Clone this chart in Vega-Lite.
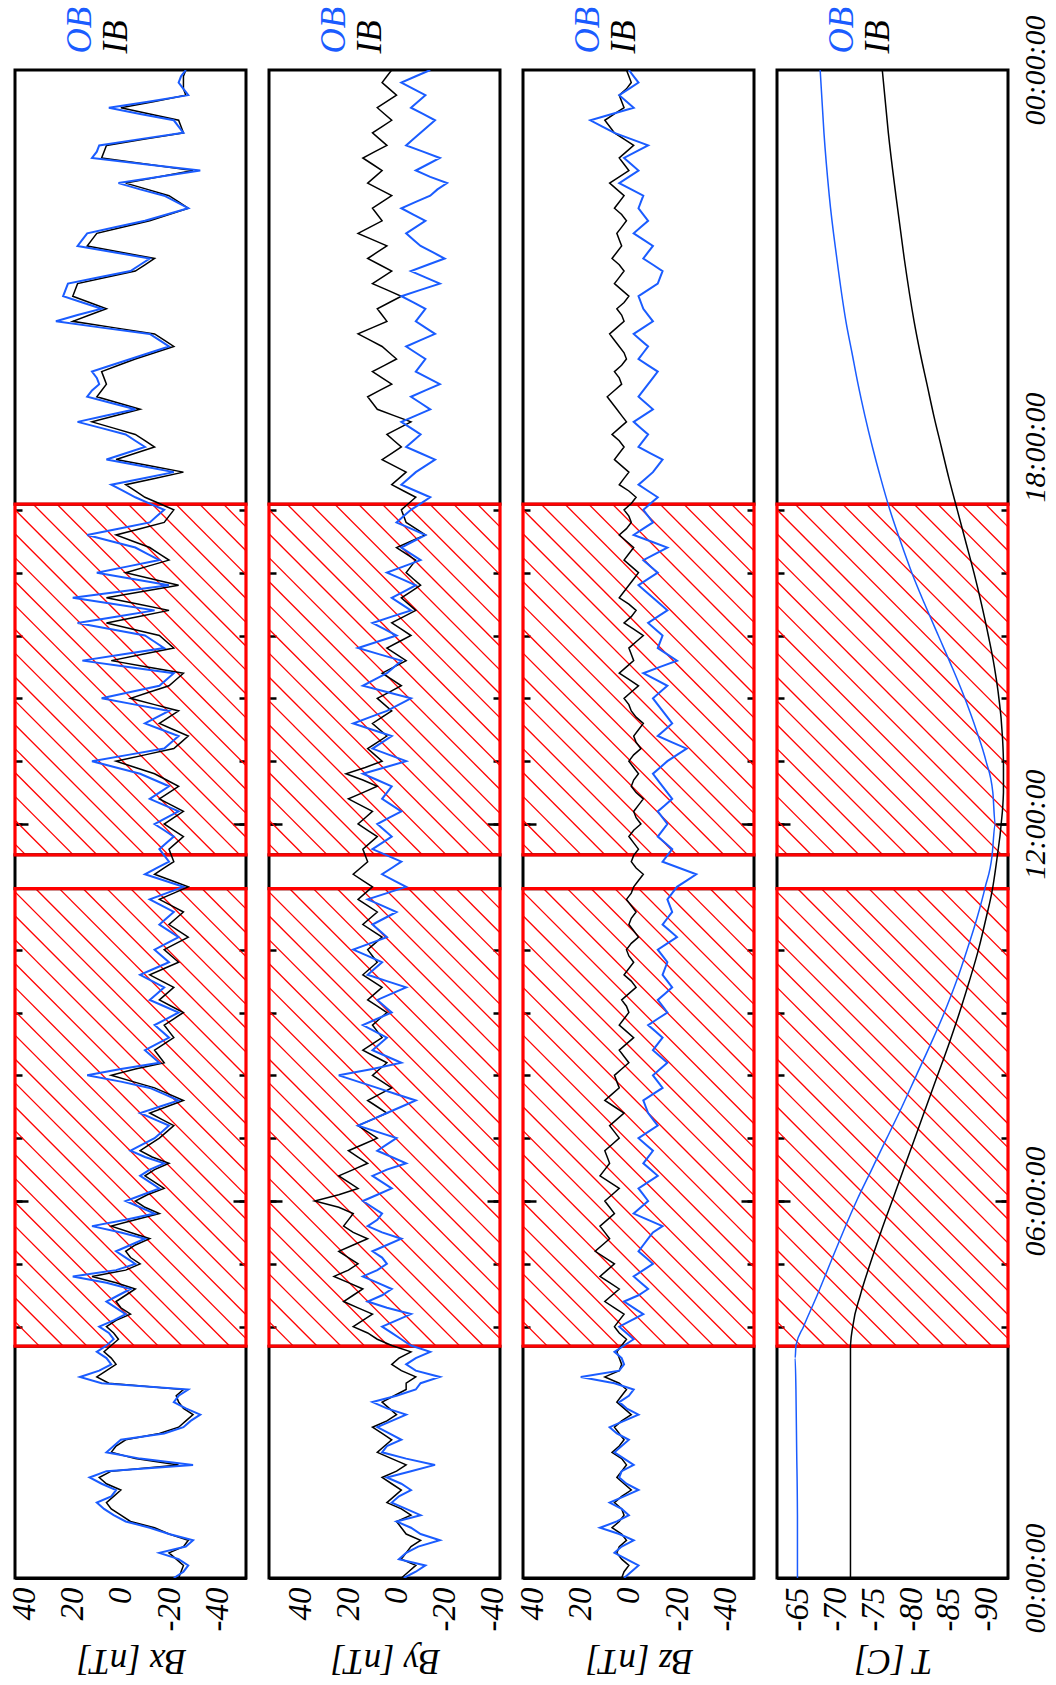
{
"$schema": "https://vega.github.io/schema/vega-lite/v6.json",
"background": "white",
"padding": {"left": 8, "top": 6, "right": 2, "bottom": 2},
"spacing": 23,
"bounds": "flush",
"datasets": {
"hatch": [
{"a":3.70,"b":0.01},{"a":4.08,"b":0.39},{"a":4.46,"b":0.77},{"a":4.84,"b":1.15},{"a":5.22,"b":1.53},{"a":5.60,"b":1.91},{"a":5.98,"b":2.29},{"a":6.36,"b":2.67},{"a":6.74,"b":3.05},{"a":7.12,"b":3.43},{"a":7.50,"b":3.81},{"a":7.88,"b":4.19},{"a":8.26,"b":4.57},{"a":8.64,"b":4.95},{"a":9.02,"b":5.33},{"a":9.40,"b":5.71},{"a":9.78,"b":6.09},{"a":10.16,"b":6.47},{"a":10.54,"b":6.85},{"a":10.92,"b":7.23},{"a":11.30,"b":7.61},{"a":11.68,"b":7.99},{"a":12.06,"b":8.37},{"a":12.44,"b":8.75},{"a":12.82,"b":9.13},{"a":13.20,"b":9.51},{"a":13.58,"b":9.89},{"a":13.96,"b":10.27},{"a":14.34,"b":10.65},{"a":14.72,"b":11.03},{"a":15.10,"b":11.41},{"a":15.48,"b":11.79},{"a":15.86,"b":12.17},{"a":16.24,"b":12.55},{"a":16.62,"b":12.93},{"a":17.00,"b":13.31},{"a":17.38,"b":13.69},{"a":17.76,"b":14.07},{"a":18.14,"b":14.45},{"a":18.52,"b":14.83},{"a":18.90,"b":15.21},{"a":19.28,"b":15.59},{"a":19.66,"b":15.97},{"a":20.04,"b":16.35},{"a":20.42,"b":16.73},{"a":20.80,"b":17.11}
],
"gaps": [{"s":0,"e":3.69},{"s":10.97,"e":11.51},{"s":17.09,"e":24}],
"boxes": [{"s":3.69,"e":10.97},{"s":11.51,"e":17.09}],
"temp": [
{"t":0,"ob":-65.0,"ib":-72.0},{"t":1,"ob":-65.0,"ib":-72.0},{"t":2,"ob":-64.9,"ib":-72.0},{"t":3,"ob":-64.8,"ib":-72.0},{"t":3.5,"ob":-64.7,"ib":-72.0},{"t":3.7,"ob":-64.8,"ib":-72.0},{"t":4.0,"ob":-65.8,"ib":-72.3},{"t":4.5,"ob":-67.6,"ib":-73.3},{"t":5.0,"ob":-69.3,"ib":-74.6},{"t":5.5,"ob":-71.0,"ib":-76.0},{"t":6.0,"ob":-72.8,"ib":-77.5},{"t":6.5,"ob":-74.8,"ib":-79.0},{"t":7.0,"ob":-76.8,"ib":-80.5},{"t":7.5,"ob":-78.8,"ib":-82.0},{"t":8.0,"ob":-80.7,"ib":-83.5},{"t":8.5,"ob":-82.6,"ib":-85.0},{"t":9.0,"ob":-84.4,"ib":-86.4},{"t":9.5,"ob":-86.0,"ib":-87.7},{"t":10.0,"ob":-87.4,"ib":-88.9},{"t":10.5,"ob":-88.7,"ib":-89.9},{"t":11.0,"ob":-89.8,"ib":-90.8},{"t":11.5,"ob":-90.7,"ib":-91.4},{"t":12.0,"ob":-91.1,"ib":-91.9},{"t":12.5,"ob":-90.8,"ib":-92.2},{"t":13.0,"ob":-89.9,"ib":-92.2},{"t":13.5,"ob":-88.6,"ib":-92.0},{"t":14.0,"ob":-87.1,"ib":-91.6},{"t":14.5,"ob":-85.4,"ib":-91.0},{"t":15.0,"ob":-83.6,"ib":-90.2},{"t":15.5,"ob":-81.8,"ib":-89.3},{"t":16.0,"ob":-80.1,"ib":-88.3},{"t":16.5,"ob":-78.6,"ib":-87.2},{"t":17.0,"ob":-77.2,"ib":-86.1},{"t":17.5,"ob":-76.0,"ib":-85.0},{"t":18.0,"ob":-74.9,"ib":-84.0},{"t":18.5,"ob":-73.9,"ib":-83.0},{"t":19.0,"ob":-73.0,"ib":-82.1},{"t":19.5,"ob":-72.2,"ib":-81.2},{"t":20.0,"ob":-71.4,"ib":-80.4},{"t":21.0,"ob":-70.2,"ib":-79.1},{"t":22.0,"ob":-69.2,"ib":-78.0},{"t":23.0,"ob":-68.5,"ib":-77.0},{"t":24.0,"ob":-68.0,"ib":-76.2}
],
"b": [
{"t":0.0,"xo":-22,"xi":-24,"yo":-3,"yi":-2,"zo":2,"zi":3},
{"t":0.2,"xo":-28,"xi":-26,"yo":-12,"yi":-8,"zo":-4,"zi":0},
{"t":0.4,"xo":-16,"xi":-20,"yo":-4,"yi":-4,"zo":6,"zi":5},
{"t":0.6,"xo":-30,"xi":-28,"yo":-18,"yi":-10,"zo":-2,"zi":1},
{"t":0.8,"xo":-12,"xi":-14,"yo":-6,"yi":-2,"zo":12,"zi":7},
{"t":1.0,"xo":3,"xi":0,"yo":-10,"yi":-6,"zo":0,"zi":2},
{"t":1.2,"xo":10,"xi":6,"yo":2,"yi":4,"zo":8,"zi":6},
{"t":1.4,"xo":2,"xi":0,"yo":-6,"yi":-2,"zo":-4,"zi":-1},
{"t":1.6,"xo":13,"xi":9,"yo":4,"yi":6,"zo":4,"zi":5},
{"t":1.8,"xo":-30,"xi":-24,"yo":-16,"yi":-4,"zo":-2,"zi":1},
{"t":2.0,"xo":6,"xi":4,"yo":6,"yi":8,"zo":6,"zi":7},
{"t":2.2,"xo":0,"xi":-2,"yo":-2,"yi":2,"zo":0,"zi":2},
{"t":2.4,"xo":-26,"xi":-24,"yo":8,"yi":10,"zo":8,"zi":6},
{"t":2.6,"xo":-33,"xi":-30,"yo":-4,"yi":0,"zo":-4,"zi":-1},
{"t":2.8,"xo":-22,"xi":-24,"yo":10,"yi":6,"zo":4,"zi":5},
{"t":3.0,"xo":-28,"xi":-26,"yo":-8,"yi":-4,"zo":-2,"zi":1},
{"t":3.2,"xo":17,"xi":10,"yo":-18,"yi":-8,"zo":20,"zi":10},
{"t":3.4,"xo":4,"xi":2,"yo":-4,"yi":2,"zo":2,"zi":3},
{"t":3.6,"xo":10,"xi":7,"yo":-14,"yi":-6,"zo":6,"zi":5},
{"t":3.8,"xo":3,"xi":1,"yo":-2,"yi":8,"zo":-2,"zi":1},
{"t":4.0,"xo":9,"xi":6,"yo":6,"yi":18,"zo":4,"zi":6},
{"t":4.2,"xo":-2,"xi":-4,"yo":-6,"yi":10,"zo":-6,"zi":2},
{"t":4.4,"xo":6,"xi":2,"yo":12,"yi":22,"zo":2,"zi":10},
{"t":4.6,"xo":-4,"xi":-6,"yo":2,"yi":14,"zo":-8,"zi":4},
{"t":4.8,"xo":20,"xi":12,"yo":14,"yi":26,"zo":-2,"zi":12},
{"t":5.0,"xo":-6,"xi":-8,"yo":4,"yi":16,"zo":-10,"zi":6},
{"t":5.2,"xo":2,"xi":-2,"yo":10,"yi":24,"zo":-4,"zi":14},
{"t":5.4,"xo":-10,"xi":-12,"yo":-2,"yi":12,"zo":-8,"zi":8},
{"t":5.6,"xo":12,"xi":4,"yo":12,"yi":22,"zo":-14,"zi":12},
{"t":5.8,"xo":-14,"xi":-16,"yo":6,"yi":18,"zo":-2,"zi":6},
{"t":6.0,"xo":-2,"xi":-6,"yo":14,"yi":34,"zo":-8,"zi":10},
{"t":6.2,"xo":-16,"xi":-18,"yo":2,"yi":16,"zo":-4,"zi":4},
{"t":6.4,"xo":-8,"xi":-10,"yo":10,"yi":24,"zo":-12,"zi":12},
{"t":6.6,"xo":-18,"xi":-20,"yo":-4,"yi":12,"zo":-6,"zi":8},
{"t":6.8,"xo":-4,"xi":-8,"yo":8,"yi":20,"zo":-10,"zi":10},
{"t":7.0,"xo":-14,"xi":-16,"yo":0,"yi":8,"zo":-4,"zi":4},
{"t":7.2,"xo":-20,"xi":-22,"yo":16,"yi":16,"zo":-12,"zi":8},
{"t":7.4,"xo":-8,"xi":-12,"yo":4,"yi":4,"zo":-8,"zi":2},
{"t":7.6,"xo":-24,"xi":-26,"yo":-8,"yi":12,"zo":-6,"zi":10},
{"t":7.8,"xo":-12,"xi":-14,"yo":8,"yi":2,"zo":-14,"zi":4},
{"t":8.0,"xo":14,"xi":4,"yo":24,"yi":10,"zo":-10,"zi":6},
{"t":8.2,"xo":-16,"xi":-18,"yo":-2,"yi":4,"zo":-16,"zi":0},
{"t":8.4,"xo":-10,"xi":-14,"yo":10,"yi":14,"zo":-10,"zi":4},
{"t":8.6,"xo":-20,"xi":-22,"yo":4,"yi":6,"zo":-14,"zi":-2},
{"t":8.8,"xo":-14,"xi":-18,"yo":14,"yi":10,"zo":-8,"zi":4},
{"t":9.0,"xo":-24,"xi":-26,"yo":2,"yi":4,"zo":-16,"zi":0},
{"t":9.2,"xo":-12,"xi":-16,"yo":8,"yi":12,"zo":-12,"zi":3},
{"t":9.4,"xo":-18,"xi":-22,"yo":-4,"yi":6,"zo":-18,"zi":-3},
{"t":9.6,"xo":-8,"xi":-12,"yo":12,"yi":14,"zo":-14,"zi":2},
{"t":9.8,"xo":-20,"xi":-24,"yo":6,"yi":8,"zo":-16,"zi":-2},
{"t":10.0,"xo":-14,"xi":-18,"yo":18,"yi":12,"zo":-12,"zi":1},
{"t":10.2,"xo":-24,"xi":-28,"yo":4,"yi":6,"zo":-20,"zi":-4},
{"t":10.4,"xo":-16,"xi":-20,"yo":10,"yi":14,"zo":-14,"zi":0},
{"t":10.6,"xo":-22,"xi":-26,"yo":0,"yi":8,"zo":-18,"zi":-3},
{"t":10.8,"xo":-12,"xi":-16,"yo":12,"yi":16,"zo":-16,"zi":1},
{"t":11.0,"xo":-26,"xi":-28,"yo":-4,"yi":10,"zo":-20,"zi":-2},
{"t":11.2,"xo":-10,"xi":-14,"yo":6,"yi":18,"zo":-28,"zi":-6},
{"t":11.4,"xo":-20,"xi":-22,"yo":-2,"yi":12,"zo":-14,"zi":-1},
{"t":11.6,"xo":-16,"xi":-20,"yo":10,"yi":14,"zo":-18,"zi":-4},
{"t":11.8,"xo":-22,"xi":-26,"yo":2,"yi":8,"zo":-12,"zi":0},
{"t":12.0,"xo":-14,"xi":-18,"yo":8,"yi":16,"zo":-16,"zi":-5},
{"t":12.2,"xo":-24,"xi":-26,"yo":-2,"yi":10,"zo":-12,"zi":-2},
{"t":12.4,"xo":-12,"xi":-16,"yo":6,"yi":20,"zo":-18,"zi":-6},
{"t":12.6,"xo":-20,"xi":-24,"yo":2,"yi":8,"zo":-14,"zi":-1},
{"t":12.8,"xo":-8,"xi":-14,"yo":14,"yi":21,"zo":-10,"zi":-4},
{"t":13.0,"xo":12,"xi":2,"yo":-4,"yi":6,"zo":-16,"zi":0},
{"t":13.2,"xo":-18,"xi":-22,"yo":10,"yi":12,"zo":-24,"zi":-5},
{"t":13.4,"xo":-24,"xi":-28,"yo":2,"yi":4,"zo":-12,"zi":-2},
{"t":13.6,"xo":-10,"xi":-16,"yo":18,"yi":10,"zo":-18,"zi":-6},
{"t":13.8,"xo":-20,"xi":-24,"yo":4,"yi":2,"zo":-14,"zi":-1},
{"t":14.0,"xo":8,"xi":-4,"yo":-6,"yi":8,"zo":-10,"zi":2},
{"t":14.2,"xo":-16,"xi":-20,"yo":14,"yi":-2,"zo":-16,"zi":-4},
{"t":14.4,"xo":-22,"xi":-26,"yo":4,"yi":6,"zo":-6,"zi":4},
{"t":14.6,"xo":16,"xi":4,"yo":-2,"yi":-4,"zo":-20,"zi":-2},
{"t":14.8,"xo":-18,"xi":-22,"yo":16,"yi":4,"zo":-12,"zi":0},
{"t":15.0,"xo":-10,"xi":-16,"yo":0,"yi":-6,"zo":-14,"zi":-6},
{"t":15.2,"xo":18,"xi":6,"yo":10,"yi":2,"zo":-8,"zi":2},
{"t":15.4,"xo":-14,"xi":-20,"yo":-6,"yi":-8,"zo":-16,"zi":-3},
{"t":15.6,"xo":20,"xi":6,"yo":2,"yi":-2,"zo":-10,"zi":4},
{"t":15.8,"xo":-20,"xi":-24,"yo":-8,"yi":-10,"zo":-4,"zi":0},
{"t":16.0,"xo":10,"xi":-2,"yo":4,"yi":-4,"zo":-12,"zi":-4},
{"t":16.2,"xo":-16,"xi":-20,"yo":-10,"yi":-8,"zo":-6,"zi":2},
{"t":16.4,"xo":-6,"xi":-12,"yo":-2,"yi":0,"zo":-16,"zi":-2},
{"t":16.6,"xo":14,"xi":2,"yo":-12,"yi":-12,"zo":-2,"zi":4},
{"t":16.8,"xo":-12,"xi":-18,"yo":0,"yi":-4,"zo":-10,"zi":-1},
{"t":17.0,"xo":-18,"xi":-22,"yo":-6,"yi":-2,"zo":-6,"zi":2},
{"t":17.2,"xo":-6,"xi":-10,"yo":-14,"yi":-8,"zo":-12,"zi":-3},
{"t":17.4,"xo":4,"xi":-2,"yo":-2,"yi":2,"zo":-4,"zi":4},
{"t":17.6,"xo":-22,"xi":-26,"yo":-8,"yi":-4,"zo":-10,"zi":0},
{"t":17.8,"xo":6,"xi":2,"yo":-16,"yi":6,"zo":-14,"zi":6},
{"t":18.0,"xo":-10,"xi":-14,"yo":-4,"yi":-2,"zo":-4,"zi":2},
{"t":18.2,"xo":-2,"xi":-6,"yo":-10,"yi":4,"zo":-8,"zi":7},
{"t":18.4,"xo":18,"xi":12,"yo":-2,"yi":-6,"zo":-2,"zi":1},
{"t":18.6,"xo":-6,"xi":-8,"yo":-14,"yi":8,"zo":-10,"zi":5},
{"t":18.8,"xo":14,"xi":10,"yo":-6,"yi":12,"zo":-4,"zi":9},
{"t":19.0,"xo":9,"xi":6,"yo":-18,"yi":2,"zo":-8,"zi":3},
{"t":19.2,"xo":12,"xi":8,"yo":-8,"yi":10,"zo":-12,"zi":6},
{"t":19.4,"xo":-4,"xi":-6,"yo":-12,"yi":0,"zo":-4,"zi":1},
{"t":19.6,"xo":-20,"xi":-22,"yo":-4,"yi":6,"zo":-8,"zi":4},
{"t":19.8,"xo":-12,"xi":-14,"yo":-16,"yi":16,"zo":-2,"zi":8},
{"t":20.0,"xo":27,"xi":20,"yo":-8,"yi":4,"zo":-10,"zi":2},
{"t":20.2,"xo":8,"xi":6,"yo":-12,"yi":8,"zo":-6,"zi":5},
{"t":20.4,"xo":24,"xi":20,"yo":-2,"yi":-2,"zo":-4,"zi":0},
{"t":20.6,"xo":22,"xi":18,"yo":-18,"yi":10,"zo":-12,"zi":6},
{"t":20.8,"xo":-4,"xi":-6,"yo":-6,"yi":2,"zo":-14,"zi":2},
{"t":21.0,"xo":-12,"xi":-14,"yo":-20,"yi":12,"zo":-6,"zi":7},
{"t":21.2,"xo":18,"xi":14,"yo":-10,"yi":4,"zo":-10,"zi":3},
{"t":21.4,"xo":14,"xi":10,"yo":-4,"yi":16,"zo":-2,"zi":5},
{"t":21.6,"xo":-10,"xi":-12,"yo":-12,"yi":6,"zo":-8,"zi":1},
{"t":21.8,"xo":-28,"xi":-28,"yo":-2,"yi":10,"zo":-4,"zi":6},
{"t":22.0,"xo":-18,"xi":-20,"yo":-14,"yi":2,"zo":-6,"zi":2},
{"t":22.2,"xo":1,"xi":-2,"yo":-21,"yi":12,"zo":4,"zi":8},
{"t":22.4,"xo":-33,"xi":-30,"yo":-8,"yi":6,"zo":-4,"zi":0},
{"t":22.6,"xo":12,"xi":8,"yo":-18,"yi":14,"zo":2,"zi":4},
{"t":22.8,"xo":9,"xi":6,"yo":-4,"yi":4,"zo":-8,"zi":-2},
{"t":23.0,"xo":-26,"xi":-26,"yo":-10,"yi":10,"zo":6,"zi":6},
{"t":23.2,"xo":-22,"xi":-24,"yo":-16,"yi":2,"zo":16,"zi":10},
{"t":23.4,"xo":5,"xi":0,"yo":-6,"yi":8,"zo":-2,"zi":2},
{"t":23.6,"xo":-28,"xi":-27,"yo":-12,"yi":0,"zo":4,"zi":4},
{"t":23.8,"xo":-24,"xi":-26,"yo":-2,"yi":6,"zo":-4,"zi":-1},
{"t":24.0,"xo":-27,"xi":-27,"yo":-14,"yi":2,"zo":0,"zi":1},
{"t":0.1,"xo":-26,"xi":-25,"yo":-8,"yi":-5,"zo":-1,"zi":2},
{"t":0.3,"xo":-24,"xi":-23,"yo":-1,"yi":-2,"zo":1,"zi":3},
{"t":0.5,"xo":-27,"xi":-26,"yo":-9,"yi":-6,"zo":3,"zi":4},
{"t":0.7,"xo":-20,"xi":-20,"yo":-10,"yi":-4,"zo":4,"zi":3},
{"t":0.9,"xo":-2,"xi":-4,"yo":0,"yi":0,"zo":5,"zi":4},
{"t":1.1,"xo":7,"xi":4,"yo":-4,"yi":-2,"zo":3,"zi":3},
{"t":1.3,"xo":4,"xi":3,"yo":-1,"yi":1,"zo":2,"zi":3},
{"t":1.5,"xo":8,"xi":6,"yo":-2,"yi":2,"zo":1,"zi":2},
{"t":1.7,"xo":6,"xi":4,"yo":-6,"yi":0,"zo":3,"zi":3},
{"t":1.9,"xo":-8,"xi":-6,"yo":-4,"yi":2,"zo":2,"zi":3},
{"t":2.1,"xo":3,"xi":2,"yo":4,"yi":5,"zo":3,"zi":4},
{"t":2.3,"xo":-18,"xi":-16,"yo":3,"yi":6,"zo":5,"zi":4},
{"t":2.5,"xo":-29,"xi":-27,"yo":2,"yi":4,"zo":2,"zi":3},
{"t":2.7,"xo":-27,"xi":-26,"yo":4,"yi":3,"zo":1,"zi":2},
{"t":2.9,"xo":-24,"xi":-23,"yo":0,"yi":1,"zo":0,"zi":3},
{"t":3.1,"xo":8,"xi":5,"yo":-10,"yi":-4,"zo":6,"zi":4},
{"t":3.3,"xo":9,"xi":6,"yo":-8,"yi":-2,"zo":4,"zi":4},
{"t":3.5,"xo":6,"xi":4,"yo":-8,"yi":-1,"zo":3,"zi":4},
{"t":3.7,"xo":6,"xi":4,"yo":-6,"yi":2,"zo":2,"zi":3},
{"t":3.9,"xo":5,"xi":3,"yo":2,"yi":12,"zo":1,"zi":4},
{"t":4.1,"xo":3,"xi":2,"yo":0,"yi":14,"zo":-1,"zi":4},
{"t":4.3,"xo":2,"xi":0,"yo":4,"yi":16,"zo":-2,"zi":6},
{"t":4.5,"xo":1,"xi":-2,"yo":6,"yi":18,"zo":-4,"zi":7},
{"t":4.7,"xo":6,"xi":2,"yo":8,"yi":20,"zo":-5,"zi":8},
{"t":4.9,"xo":2,"xi":-2,"yo":8,"yi":20,"zo":-6,"zi":9},
{"t":5.1,"xo":-2,"xi":-4,"yo":6,"yi":20,"zo":-7,"zi":10},
{"t":5.3,"xo":-4,"xi":-6,"yo":4,"yi":18,"zo":-6,"zi":11},
{"t":5.5,"xo":0,"xi":-4,"yo":6,"yi":18,"zo":-10,"zi":10},
{"t":5.7,"xo":-2,"xi":-6,"yo":8,"yi":20,"zo":-8,"zi":9},
{"t":5.9,"xo":-8,"xi":-10,"yo":10,"yi":24,"zo":-5,"zi":8},
{"t":6.1,"xo":-9,"xi":-11,"yo":8,"yi":24,"zo":-6,"zi":7},
{"t":6.3,"xo":-12,"xi":-14,"yo":6,"yi":20,"zo":-8,"zi":8},
{"t":6.5,"xo":-12,"xi":-14,"yo":4,"yi":18,"zo":-9,"zi":10},
{"t":6.7,"xo":-10,"xi":-13,"yo":2,"yi":16,"zo":-8,"zi":9},
{"t":6.9,"xo":-9,"xi":-12,"yo":4,"yi":14,"zo":-7,"zi":7},
{"t":7.1,"xo":-17,"xi":-19,"yo":8,"yi":12,"zo":-8,"zi":6},
{"t":7.3,"xo":-14,"xi":-17,"yo":10,"yi":10,"zo":-10,"zi":5},
{"t":7.5,"xo":-16,"xi":-19,"yo":-2,"yi":8,"zo":-7,"zi":6},
{"t":7.7,"xo":-18,"xi":-20,"yo":0,"yi":7,"zo":-10,"zi":7},
{"t":7.9,"xo":0,"xi":-5,"yo":16,"yi":6,"zo":-12,"zi":5},
{"t":8.1,"xo":0,"xi":-6,"yo":10,"yi":7,"zo":-13,"zi":3},
{"t":8.3,"xo":-13,"xi":-16,"yo":4,"yi":9,"zo":-13,"zi":2},
{"t":8.5,"xo":-15,"xi":-18,"yo":7,"yi":10,"zo":-12,"zi":1},
{"t":8.7,"xo":-17,"xi":-20,"yo":9,"yi":8,"zo":-11,"zi":1},
{"t":8.9,"xo":-19,"xi":-22,"yo":8,"yi":7,"zo":-12,"zi":2},
{"t":9.1,"xo":-18,"xi":-21,"yo":5,"yi":8,"zo":-14,"zi":1},
{"t":9.3,"xo":-15,"xi":-19,"yo":2,"yi":9,"zo":-15,"zi":0},
{"t":9.5,"xo":-13,"xi":-17,"yo":4,"yi":10,"zo":-16,"zi":-1},
{"t":9.7,"xo":-14,"xi":-18,"yo":9,"yi":11,"zo":-15,"zi":0},
{"t":9.9,"xo":-17,"xi":-21,"yo":12,"yi":10,"zo":-14,"zi":0},
{"t":10.1,"xo":-19,"xi":-23,"yo":11,"yi":9,"zo":-16,"zi":-1},
{"t":10.3,"xo":-20,"xi":-24,"yo":7,"yi":10,"zo":-17,"zi":-2},
{"t":10.5,"xo":-19,"xi":-23,"yo":5,"yi":11,"zo":-16,"zi":-1},
{"t":10.7,"xo":-17,"xi":-21,"yo":6,"yi":12,"zo":-17,"zi":-1},
{"t":10.9,"xo":-19,"xi":-22,"yo":4,"yi":13,"zo":-18,"zi":-1},
{"t":11.1,"xo":-18,"xi":-21,"yo":1,"yi":14,"zo":-24,"zi":-4},
{"t":11.3,"xo":-15,"xi":-18,"yo":2,"yi":15,"zo":-21,"zi":-3},
{"t":11.5,"xo":-18,"xi":-21,"yo":4,"yi":13,"zo":-16,"zi":-2},
{"t":11.7,"xo":-19,"xi":-23,"yo":6,"yi":11,"zo":-15,"zi":-2},
{"t":11.9,"xo":-18,"xi":-22,"yo":5,"yi":12,"zo":-14,"zi":-2},
{"t":12.1,"xo":-19,"xi":-22,"yo":3,"yi":13,"zo":-14,"zi":-3},
{"t":12.3,"xo":-18,"xi":-21,"yo":2,"yi":15,"zo":-15,"zi":-4},
{"t":12.5,"xo":-16,"xi":-20,"yo":4,"yi":14,"zo":-16,"zi":-3},
{"t":12.7,"xo":-14,"xi":-19,"yo":8,"yi":14,"zo":-12,"zi":-2},
{"t":12.9,"xo":2,"xi":-6,"yo":5,"yi":13,"zo":-13,"zi":-2},
{"t":13.1,"xo":-3,"xi":-10,"yo":3,"yi":9,"zo":-20,"zi":-2},
{"t":13.3,"xo":-21,"xi":-25,"yo":6,"yi":8,"zo":-18,"zi":-3},
{"t":13.5,"xo":-17,"xi":-22,"yo":10,"yi":7,"zo":-15,"zi":-4},
{"t":13.7,"xo":-15,"xi":-20,"yo":11,"yi":6,"zo":-16,"zi":-3},
{"t":13.9,"xo":-6,"xi":-14,"yo":-1,"yi":5,"zo":-12,"zi":0},
{"t":14.1,"xo":-4,"xi":-12,"yo":4,"yi":3,"zo":-13,"zi":-1},
{"t":14.3,"xo":-19,"xi":-23,"yo":9,"yi":2,"zo":-11,"zi":0},
{"t":14.5,"xo":-3,"xi":-11,"yo":1,"yi":1,"zo":-13,"zi":1},
{"t":14.7,"xo":-1,"xi":-9,"yo":7,"yi":0,"zo":-16,"zi":-1},
{"t":14.9,"xo":-14,"xi":-19,"yo":8,"yi":-1,"zo":-13,"zi":-3},
{"t":15.1,"xo":4,"xi":-5,"yo":5,"yi":-2,"zo":-11,"zi":-2},
{"t":15.3,"xo":2,"xi":-7,"yo":2,"yi":-3,"zo":-12,"zi":-1},
{"t":15.5,"xo":3,"xi":-7,"yo":-2,"yi":-5,"zo":-13,"zi":0},
{"t":15.7,"xo":0,"xi":-9,"yo":-3,"yi":-6,"zo":-7,"zi":2},
{"t":15.9,"xo":-5,"xi":-13,"yo":-2,"yi":-7,"zo":-8,"zi":-2},
{"t":16.1,"xo":-3,"xi":-11,"yo":-3,"yi":-6,"zo":-9,"zi":-1},
{"t":16.3,"xo":-11,"xi":-16,"yo":-6,"yi":-4,"zo":-11,"zi":0},
{"t":16.5,"xo":4,"xi":-5,"yo":-7,"yi":-6,"zo":-9,"zi":1},
{"t":16.7,"xo":1,"xi":-8,"yo":-6,"yi":-8,"zo":-6,"zi":1},
{"t":16.9,"xo":-15,"xi":-20,"yo":-3,"yi":-3,"zo":-8,"zi":0},
{"t":17.1,"xo":-12,"xi":-16,"yo":-10,"yi":-5,"zo":-9,"zi":-1},
{"t":17.3,"xo":-1,"xi":-6,"yo":-8,"yi":-3,"zo":-8,"zi":0},
{"t":17.5,"xo":-9,"xi":-14,"yo":-5,"yi":-1,"zo":-7,"zi":2},
{"t":17.7,"xo":-8,"xi":-12,"yo":-12,"yi":1,"zo":-12,"zi":3},
{"t":17.9,"xo":-2,"xi":-6,"yo":-10,"yi":2,"zo":-9,"zi":4},
{"t":18.1,"xo":-6,"xi":-10,"yo":-7,"yi":1,"zo":-6,"zi":4},
{"t":18.3,"xo":8,"xi":3,"yo":-6,"yi":-1,"zo":-5,"zi":4},
{"t":18.5,"xo":6,"xi":2,"yo":-8,"yi":1,"zo":-6,"zi":3},
{"t":18.7,"xo":4,"xi":1,"yo":-10,"yi":10,"zo":-7,"zi":7},
{"t":18.9,"xo":12,"xi":8,"yo":-12,"yi":7,"zo":-6,"zi":6},
{"t":19.1,"xo":10,"xi":7,"yo":-13,"yi":6,"zo":-10,"zi":4},
{"t":19.3,"xo":4,"xi":1,"yo":-10,"yi":5,"zo":-8,"zi":3},
{"t":19.5,"xo":-12,"xi":-14,"yo":-8,"yi":3,"zo":-6,"zi":2},
{"t":19.7,"xo":-16,"xi":-18,"yo":-10,"yi":11,"zo":-5,"zi":6},
{"t":19.9,"xo":8,"xi":3,"yo":-12,"yi":10,"zo":-6,"zi":5},
{"t":20.1,"xo":18,"xi":13,"yo":-10,"yi":6,"zo":-8,"zi":3},
{"t":20.3,"xo":16,"xi":13,"yo":-7,"yi":3,"zo":-5,"zi":2},
{"t":20.5,"xo":23,"xi":19,"yo":-10,"yi":4,"zo":-8,"zi":3},
{"t":20.7,"xo":9,"xi":6,"yo":-12,"yi":6,"zo":-13,"zi":4},
{"t":20.9,"xo":-8,"xi":-10,"yo":-13,"yi":7,"zo":-10,"zi":4},
{"t":21.1,"xo":3,"xi":0,"yo":-15,"yi":8,"zo":-8,"zi":5},
{"t":21.3,"xo":16,"xi":12,"yo":-7,"yi":10,"zo":-6,"zi":4},
{"t":21.5,"xo":2,"xi":-1,"yo":-8,"yi":11,"zo":-5,"zi":3},
{"t":21.7,"xo":-19,"xi":-20,"yo":-7,"yi":8,"zo":-6,"zi":3},
{"t":21.9,"xo":-23,"xi":-24,"yo":-8,"yi":6,"zo":-5,"zi":4},
{"t":22.1,"xo":-8,"xi":-11,"yo":-17,"yi":7,"zo":-1,"zi":5},
{"t":22.3,"xo":-16,"xi":-16,"yo":-14,"yi":9,"zo":0,"zi":4},
{"t":22.5,"xo":-10,"xi":-11,"yo":-13,"yi":10,"zo":-1,"zi":2},
{"t":22.7,"xo":10,"xi":7,"yo":-11,"yi":9,"zo":-3,"zi":1},
{"t":22.9,"xo":-8,"xi":-10,"yo":-7,"yi":7,"zo":-1,"zi":2},
{"t":23.1,"xo":-24,"xi":-25,"yo":-13,"yi":6,"zo":11,"zi":8},
{"t":23.3,"xo":-8,"xi":-12,"yo":-11,"yi":5,"zo":7,"zi":6},
{"t":23.5,"xo":-12,"xi":-14,"yo":-9,"yi":4,"zo":1,"zi":3},
{"t":23.7,"xo":-26,"xi":-26,"yo":-7,"yi":3,"zo":0,"zi":1},
{"t":23.9,"xo":-25,"xi":-26,"yo":-8,"yi":4,"zo":-2,"zi":0}
]
},
"hconcat": [
{
"width": 231, "height": 1508,
"resolve": {"axis": {"x": "independent", "y": "independent"}},
"layer": [
{"data": {"name": "hatch"}, "mark": {"type": "rule", "color": "#ff0000", "strokeWidth": 1.3, "clip": true},
 "encoding": {
  "x": {"datum": 44, "type": "quantitative", "scale": {"domain": [-52, 44], "reverse": true, "nice": false, "zero": false},
   "axis": {"orient": "bottom", "values": [-40, -20, 0, 20, 40], "labelExpr": "'' + datum.value", "tickSize": -13, "labelAngle": 270, "labelAlign": "right", "labelBaseline": "middle", "labelPadding": 22, "title": "Bx [nT]", "titleAngle": 180, "titleX": 116, "titleY": 82, "titleAlign": "center", "titleBaseline": "middle", "domain": true}},
  "x2": {"datum": -52},
  "y": {"field": "a", "type": "quantitative", "scale": {"domain": [0, 24], "nice": false, "zero": false},
   "axis": {"orient": "left", "values": [0, 6, 12, 18, 24], "tickSize": -13, "labels": false, "title": null, "domain": false}},
  "y2": {"field": "b"}
 }},
{"data": {"name": "gaps"}, "mark": {"type": "rect", "fill": "white", "stroke": "#000000", "strokeWidth": 3},
 "encoding": {
  "x": {"datum": 44, "type": "quantitative", "axis": {"orient": "top", "values": [-40, -20, 0, 20, 40], "tickSize": -13, "labels": false, "title": "OB", "titleColor": "#1a5cff", "titleAngle": 270, "titleX": 64, "titleY": -17, "titleAlign": "left", "titleBaseline": "middle", "domain": true}},
  "x2": {"datum": -52},
  "y": {"field": "s", "type": "quantitative", "axis": {"orient": "right", "values": [0, 6, 12, 18, 24], "tickSize": -13, "labels": false, "title": null, "domain": false}},
  "y2": {"field": "e"}
 }},
{"data": {"name": "boxes"}, "mark": {"type": "rect", "fillOpacity": 0, "stroke": "#ff0000", "strokeWidth": 3.2},
 "encoding": {
  "x": {"datum": 44, "type": "quantitative", "axis": {"orient": "bottom", "values": [-50, -45, -40, -35, -30, -25, -20, -15, -10, -5, 0, 5, 10, 15, 20, 25, 30, 35, 40], "tickSize": -7, "labels": false, "title": null, "domain": false}},
  "x2": {"datum": -52},
  "y": {"field": "s", "type": "quantitative", "axis": {"orient": "left", "values": [0,1,2,3,4,5,6,7,8,9,10,11,12,13,14,15,16,17,18,19,20,21,22,23,24], "tickSize": -7, "labels": false, "title": null, "domain": false}},
  "y2": {"field": "e"}
 }},
{"data": {"name": "b"}, "mark": {"type": "line", "color": "#000000", "strokeWidth": 1.5, "clip": true},
 "encoding": {
  "x": {"field": "xi", "type": "quantitative", "axis": {"orient": "top", "values": [-50, -45, -40, -35, -30, -25, -20, -15, -10, -5, 0, 5, 10, 15, 20, 25, 30, 35, 40], "tickSize": -7, "labels": false, "title": "IB", "titleColor": "#000000", "titleAngle": 270, "titleX": 100, "titleY": -17, "titleAlign": "left", "titleBaseline": "middle", "domain": false}},
  "y": {"field": "t", "type": "quantitative", "axis": {"orient": "right", "values": [0,1,2,3,4,5,6,7,8,9,10,11,12,13,14,15,16,17,18,19,20,21,22,23,24], "tickSize": -7, "labels": false, "title": null, "domain": false}},
  "order": {"field": "t", "type": "quantitative"}
 }},
{"data": {"name": "b"}, "mark": {"type": "line", "color": "#1a5cff", "strokeWidth": 2, "clip": true},
 "encoding": {
  "x": {"field": "xo", "type": "quantitative", "axis": null},
  "y": {"field": "t", "type": "quantitative", "axis": null},
  "order": {"field": "t", "type": "quantitative"}
 }}
]
},
{
"width": 231, "height": 1508,
"resolve": {"axis": {"x": "independent", "y": "independent"}},
"layer": [
{"data": {"name": "hatch"}, "mark": {"type": "rule", "color": "#ff0000", "strokeWidth": 1.3, "clip": true},
 "encoding": {
  "x": {"datum": 53, "type": "quantitative", "scale": {"domain": [-43, 53], "reverse": true, "nice": false, "zero": false},
   "axis": {"orient": "bottom", "values": [-40, -20, 0, 20, 40], "labelExpr": "'' + datum.value", "tickSize": -13, "labelAngle": 270, "labelAlign": "right", "labelBaseline": "middle", "labelPadding": 22, "title": "By [nT]", "titleAngle": 180, "titleX": 116, "titleY": 82, "titleAlign": "center", "titleBaseline": "middle", "domain": true}},
  "x2": {"datum": -43},
  "y": {"field": "a", "type": "quantitative", "scale": {"domain": [0, 24], "nice": false, "zero": false},
   "axis": {"orient": "left", "values": [0, 6, 12, 18, 24], "tickSize": -13, "labels": false, "title": null, "domain": false}},
  "y2": {"field": "b"}
 }},
{"data": {"name": "gaps"}, "mark": {"type": "rect", "fill": "white", "stroke": "#000000", "strokeWidth": 3},
 "encoding": {
  "x": {"datum": 53, "type": "quantitative", "axis": {"orient": "top", "values": [-40, -20, 0, 20, 40], "tickSize": -13, "labels": false, "title": "OB", "titleColor": "#1a5cff", "titleAngle": 270, "titleX": 64, "titleY": -17, "titleAlign": "left", "titleBaseline": "middle", "domain": true}},
  "x2": {"datum": -43},
  "y": {"field": "s", "type": "quantitative", "axis": {"orient": "right", "values": [0, 6, 12, 18, 24], "tickSize": -13, "labels": false, "title": null, "domain": false}},
  "y2": {"field": "e"}
 }},
{"data": {"name": "boxes"}, "mark": {"type": "rect", "fillOpacity": 0, "stroke": "#ff0000", "strokeWidth": 3.2},
 "encoding": {
  "x": {"datum": 53, "type": "quantitative", "axis": {"orient": "bottom", "values": [-40, -35, -30, -25, -20, -15, -10, -5, 0, 5, 10, 15, 20, 25, 30, 35, 40, 45, 50], "tickSize": -7, "labels": false, "title": null, "domain": false}},
  "x2": {"datum": -43},
  "y": {"field": "s", "type": "quantitative", "axis": {"orient": "left", "values": [0,1,2,3,4,5,6,7,8,9,10,11,12,13,14,15,16,17,18,19,20,21,22,23,24], "tickSize": -7, "labels": false, "title": null, "domain": false}},
  "y2": {"field": "e"}
 }},
{"data": {"name": "b"}, "mark": {"type": "line", "color": "#000000", "strokeWidth": 1.5, "clip": true},
 "encoding": {
  "x": {"field": "yi", "type": "quantitative", "axis": {"orient": "top", "values": [-40, -35, -30, -25, -20, -15, -10, -5, 0, 5, 10, 15, 20, 25, 30, 35, 40, 45, 50], "tickSize": -7, "labels": false, "title": "IB", "titleColor": "#000000", "titleAngle": 270, "titleX": 100, "titleY": -17, "titleAlign": "left", "titleBaseline": "middle", "domain": false}},
  "y": {"field": "t", "type": "quantitative", "axis": {"orient": "right", "values": [0,1,2,3,4,5,6,7,8,9,10,11,12,13,14,15,16,17,18,19,20,21,22,23,24], "tickSize": -7, "labels": false, "title": null, "domain": false}},
  "order": {"field": "t", "type": "quantitative"}
 }},
{"data": {"name": "b"}, "mark": {"type": "line", "color": "#1a5cff", "strokeWidth": 2, "clip": true},
 "encoding": {
  "x": {"field": "yo", "type": "quantitative", "axis": null},
  "y": {"field": "t", "type": "quantitative", "axis": null},
  "order": {"field": "t", "type": "quantitative"}
 }}
]
},
{
"width": 231, "height": 1508,
"resolve": {"axis": {"x": "independent", "y": "independent"}},
"layer": [
{"data": {"name": "hatch"}, "mark": {"type": "rule", "color": "#ff0000", "strokeWidth": 1.3, "clip": true},
 "encoding": {
  "x": {"datum": 44, "type": "quantitative", "scale": {"domain": [-52, 44], "reverse": true, "nice": false, "zero": false},
   "axis": {"orient": "bottom", "values": [-40, -20, 0, 20, 40], "labelExpr": "'' + datum.value", "tickSize": -13, "labelAngle": 270, "labelAlign": "right", "labelBaseline": "middle", "labelPadding": 22, "title": "Bz [nT]", "titleAngle": 180, "titleX": 116, "titleY": 82, "titleAlign": "center", "titleBaseline": "middle", "domain": true}},
  "x2": {"datum": -52},
  "y": {"field": "a", "type": "quantitative", "scale": {"domain": [0, 24], "nice": false, "zero": false},
   "axis": {"orient": "left", "values": [0, 6, 12, 18, 24], "tickSize": -13, "labels": false, "title": null, "domain": false}},
  "y2": {"field": "b"}
 }},
{"data": {"name": "gaps"}, "mark": {"type": "rect", "fill": "white", "stroke": "#000000", "strokeWidth": 3},
 "encoding": {
  "x": {"datum": 44, "type": "quantitative", "axis": {"orient": "top", "values": [-40, -20, 0, 20, 40], "tickSize": -13, "labels": false, "title": "OB", "titleColor": "#1a5cff", "titleAngle": 270, "titleX": 64, "titleY": -17, "titleAlign": "left", "titleBaseline": "middle", "domain": true}},
  "x2": {"datum": -52},
  "y": {"field": "s", "type": "quantitative", "axis": {"orient": "right", "values": [0, 6, 12, 18, 24], "tickSize": -13, "labels": false, "title": null, "domain": false}},
  "y2": {"field": "e"}
 }},
{"data": {"name": "boxes"}, "mark": {"type": "rect", "fillOpacity": 0, "stroke": "#ff0000", "strokeWidth": 3.2},
 "encoding": {
  "x": {"datum": 44, "type": "quantitative", "axis": {"orient": "bottom", "values": [-50, -45, -40, -35, -30, -25, -20, -15, -10, -5, 0, 5, 10, 15, 20, 25, 30, 35, 40], "tickSize": -7, "labels": false, "title": null, "domain": false}},
  "x2": {"datum": -52},
  "y": {"field": "s", "type": "quantitative", "axis": {"orient": "left", "values": [0,1,2,3,4,5,6,7,8,9,10,11,12,13,14,15,16,17,18,19,20,21,22,23,24], "tickSize": -7, "labels": false, "title": null, "domain": false}},
  "y2": {"field": "e"}
 }},
{"data": {"name": "b"}, "mark": {"type": "line", "color": "#000000", "strokeWidth": 1.5, "clip": true},
 "encoding": {
  "x": {"field": "zi", "type": "quantitative", "axis": {"orient": "top", "values": [-50, -45, -40, -35, -30, -25, -20, -15, -10, -5, 0, 5, 10, 15, 20, 25, 30, 35, 40], "tickSize": -7, "labels": false, "title": "IB", "titleColor": "#000000", "titleAngle": 270, "titleX": 100, "titleY": -17, "titleAlign": "left", "titleBaseline": "middle", "domain": false}},
  "y": {"field": "t", "type": "quantitative", "axis": {"orient": "right", "values": [0,1,2,3,4,5,6,7,8,9,10,11,12,13,14,15,16,17,18,19,20,21,22,23,24], "tickSize": -7, "labels": false, "title": null, "domain": false}},
  "order": {"field": "t", "type": "quantitative"}
 }},
{"data": {"name": "b"}, "mark": {"type": "line", "color": "#1a5cff", "strokeWidth": 2, "clip": true},
 "encoding": {
  "x": {"field": "zo", "type": "quantitative", "axis": null},
  "y": {"field": "t", "type": "quantitative", "axis": null},
  "order": {"field": "t", "type": "quantitative"}
 }}
]
},
{
"width": 231, "height": 1508,
"resolve": {"axis": {"x": "independent", "y": "independent"}},
"layer": [
{"data": {"name": "hatch"}, "mark": {"type": "rule", "color": "#ff0000", "strokeWidth": 1.3, "clip": true},
 "encoding": {
  "x": {"datum": -62.3, "type": "quantitative", "scale": {"domain": [-92.8, -62.3], "reverse": true, "nice": false, "zero": false},
   "axis": {"orient": "bottom", "values": [-90, -85, -80, -75, -70, -65], "labelExpr": "'' + datum.value", "tickSize": -13, "labelAngle": 270, "labelAlign": "right", "labelBaseline": "middle", "labelPadding": 22, "title": "T [C]", "titleAngle": 180, "titleX": 116, "titleY": 82, "titleAlign": "center", "titleBaseline": "middle", "domain": true}},
  "x2": {"datum": -92.8},
  "y": {"field": "a", "type": "quantitative", "scale": {"domain": [0, 24], "nice": false, "zero": false},
   "axis": {"orient": "left", "values": [0, 6, 12, 18, 24], "tickSize": -13, "labels": false, "title": null, "domain": false}},
  "y2": {"field": "b"}
 }},
{"data": {"name": "gaps"}, "mark": {"type": "rect", "fill": "white", "stroke": "#000000", "strokeWidth": 3},
 "encoding": {
  "x": {"datum": -62.3, "type": "quantitative", "axis": {"orient": "top", "values": [-90, -85, -80, -75, -70, -65], "tickSize": -13, "labels": false, "title": "OB", "titleColor": "#1a5cff", "titleAngle": 270, "titleX": 64, "titleY": -17, "titleAlign": "left", "titleBaseline": "middle", "domain": true}},
  "x2": {"datum": -92.8},
  "y": {"field": "s", "type": "quantitative", "axis": {"orient": "right", "values": [0, 6, 12, 18, 24], "tickSize": -13, "labels": true, "labelExpr": "(datum.value % 24 < 10 ? '0' : '') + (datum.value % 24) + ':00:00'", "labelAngle": 270, "labelAlign": "center", "labelBaseline": "top", "labelPadding": 25, "labelFontSize": 30, "title": null, "domain": false}},
  "y2": {"field": "e"}
 }},
{"data": {"name": "boxes"}, "mark": {"type": "rect", "fillOpacity": 0, "stroke": "#ff0000", "strokeWidth": 3.2},
 "encoding": {
  "x": {"datum": -62.3, "type": "quantitative", "axis": {"orient": "bottom", "values": [-92,-91,-90,-89,-88,-87,-86,-85,-84,-83,-82,-81,-80,-79,-78,-77,-76,-75,-74,-73,-72,-71,-70,-69,-68,-67,-66,-65,-64,-63], "tickSize": -7, "labels": false, "title": null, "domain": false}},
  "x2": {"datum": -92.8},
  "y": {"field": "s", "type": "quantitative", "axis": {"orient": "left", "values": [0,1,2,3,4,5,6,7,8,9,10,11,12,13,14,15,16,17,18,19,20,21,22,23,24], "tickSize": -7, "labels": false, "title": null, "domain": false}},
  "y2": {"field": "e"}
 }},
{"data": {"name": "temp"}, "mark": {"type": "line", "color": "#000000", "strokeWidth": 1.5, "clip": true, "interpolate": "monotone"},
 "encoding": {
  "x": {"field": "ib", "type": "quantitative", "axis": {"orient": "top", "values": [-92,-91,-90,-89,-88,-87,-86,-85,-84,-83,-82,-81,-80,-79,-78,-77,-76,-75,-74,-73,-72,-71,-70,-69,-68,-67,-66,-65,-64,-63], "tickSize": -7, "labels": false, "title": "IB", "titleColor": "#000000", "titleAngle": 270, "titleX": 100, "titleY": -17, "titleAlign": "left", "titleBaseline": "middle", "domain": false}},
  "y": {"field": "t", "type": "quantitative", "axis": {"orient": "right", "values": [0,1,2,3,4,5,6,7,8,9,10,11,12,13,14,15,16,17,18,19,20,21,22,23,24], "tickSize": -7, "labels": false, "title": null, "domain": false}},
  "order": {"field": "t", "type": "quantitative"}
 }},
{"data": {"name": "temp"}, "mark": {"type": "line", "color": "#1a5cff", "strokeWidth": 1.5, "clip": true, "interpolate": "monotone"},
 "encoding": {
  "x": {"field": "ob", "type": "quantitative", "axis": null},
  "y": {"field": "t", "type": "quantitative", "axis": null},
  "order": {"field": "t", "type": "quantitative"}
 }}
]
}
],
"config": {
 "view": {"stroke": null},
 "axis": {"zindex": 1, "grid": false, "tickColor": "#000000", "tickWidth": 2.5, "domainColor": "#000000", "domainWidth": 3, "labelFont": "Liberation Serif", "labelFontStyle": "italic", "labelFontSize": 33, "labelColor": "#000000", "labelFlush": false, "labelOverlap": false, "labelBound": false, "titleFont": "Liberation Serif", "titleFontStyle": "italic", "titleFontWeight": "normal", "titleFontSize": 35, "titleColor": "#000000", "titlePadding": 0}
}
}
